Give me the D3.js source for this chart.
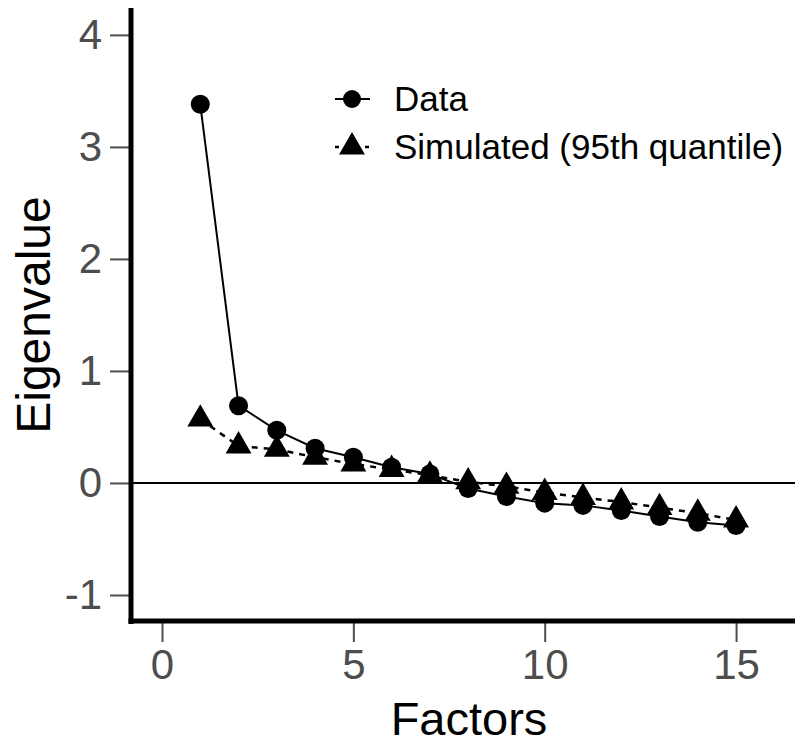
<!DOCTYPE html>
<html>
<head>
<meta charset="utf-8">
<script src="https://cdn.jsdelivr.net/npm/d3@7"></script>
<style>
  body { margin: 0; background: #fff; }
  text { font-family: "Liberation Sans", Arial, sans-serif; }
  .tick text { font-family: "Liberation Sans Narrow", "Arial Narrow", sans-serif; }
</style>
</head>
<body>
<svg id="graph"></svg>
<script>
// data
const factors = [1, 2, 3, 4, 5, 6, 7, 8, 9, 10, 11, 12, 13, 14, 15];
const dataValues = [3.38, 0.69, 0.47, 0.31, 0.23, 0.14, 0.08, -0.05, -0.12, -0.18, -0.20, -0.245, -0.30, -0.35, -0.38];
const simValues = [0.57, 0.33, 0.30, 0.23, 0.17, 0.12, 0.07, 0.01, -0.03, -0.085, -0.13, -0.17, -0.22, -0.27, -0.33];
const xTicks = [0, 5, 10, 15];
const yTicks = [-1, 0, 1, 2, 3, 4];
const legendLabels = ['Data', 'Simulated (95th quantile)'];

const width = 795;
const height = 747;

const graph = d3.select('#graph')
  .attr('width', width)
  .attr('height', height);

// panel edges: left 131, right 795, top 8, bottom 623
const x_scale = d3.scaleLinear().domain([-0.81, 16.54]).range([131, 795]);
const y_scale = d3.scaleLinear().domain([-1.25, 4.24]).range([623, 8]);

const tickColor = '#4d4d4d';

// y axis
const y_axis = d3.axisLeft(y_scale).tickValues(yTicks).tickSize(19).tickSizeOuter(0).tickPadding(8);
const gy = graph.append('g')
  .attr('transform', 'translate(129,0)')
  .call(y_axis);
gy.select('.domain').remove();
gy.selectAll('.tick line').attr('stroke', tickColor).attr('stroke-width', 2);
gy.selectAll('.tick text')
  .attr('fill', tickColor)
  .style('font-size', '42px')
  .text(d => d);

// x axis
const x_axis = d3.axisBottom(x_scale).tickValues(xTicks).tickSize(19).tickSizeOuter(0).tickPadding(7);
const gx = graph.append('g')
  .attr('transform', 'translate(0,623)')
  .call(x_axis);
gx.select('.domain').remove();
gx.selectAll('.tick line').attr('stroke', tickColor).attr('stroke-width', 2);
gx.selectAll('.tick text')
  .attr('fill', tickColor)
  .style('font-size', '42px');

// thick L-shaped axis lines
graph.append('line')
  .attr('x1', 131).attr('x2', 131)
  .attr('y1', y_scale.range()[1]).attr('y2', 624)
  .attr('stroke', '#000').attr('stroke-width', 5);
graph.append('line')
  .attr('x1', 128.5).attr('x2', x_scale.range()[1])
  .attr('y1', 621).attr('y2', 621)
  .attr('stroke', '#000').attr('stroke-width', 5);

// zero reference line
graph.append('line')
  .attr('x1', 131).attr('x2', x_scale.range()[1])
  .attr('y1', y_scale(0)).attr('y2', y_scale(0))
  .attr('stroke', '#000').attr('stroke-width', 2);

// axis titles
graph.append('text')
  .attr('x', 469).attr('y', 735)
  .attr('text-anchor', 'middle')
  .style('font-size', '47px')
  .text('Factors');
graph.append('text')
  .attr('transform', 'translate(50,315) rotate(-90)')
  .attr('text-anchor', 'middle')
  .style('font-size', '48px')
  .text('Eigenvalue');

const dataPts = factors.map((f, i) => ({x: f, y: dataValues[i]}));
const simPts = factors.map((f, i) => ({x: f, y: simValues[i]}));

const line = d3.line().x(d => x_scale(d.x)).y(d => y_scale(d.y));

const triangle = d3.symbol().type(d3.symbolTriangle).size(290);

// simulated series (dashed, triangles)
graph.append('path')
  .attr('d', line(simPts))
  .attr('fill', 'none')
  .attr('stroke', '#000')
  .attr('stroke-width', 2.5)
  .attr('stroke-dasharray', '6,6');

// data series (solid, circles)
graph.append('path')
  .attr('d', line(dataPts))
  .attr('fill', 'none')
  .attr('stroke', '#000')
  .attr('stroke-width', 2);

graph.selectAll('circle.data')
  .data(dataPts)
  .enter()
  .append('circle')
  .attr('class', 'data')
  .attr('cx', d => x_scale(d.x))
  .attr('cy', d => y_scale(d.y))
  .attr('r', 9.5)
  .attr('fill', '#000');

graph.selectAll('path.sim')
  .data(simPts)
  .enter()
  .append('path')
  .attr('class', 'sim')
  .attr('d', triangle)
  .attr('transform', d => `translate(${x_scale(d.x)},${y_scale(d.y)})`)
  .attr('fill', '#000');

// legend
const legend = graph.append('g');
const rows = [99, 147];
legend.append('line')
  .attr('x1', 335).attr('x2', 370).attr('y1', rows[0]).attr('y2', rows[0])
  .attr('stroke', '#000').attr('stroke-width', 2);
legend.append('circle')
  .attr('cx', 352).attr('cy', rows[0]).attr('r', 9)
  .attr('fill', '#000');
legend.append('line')
  .attr('x1', 335).attr('x2', 370).attr('y1', rows[1]).attr('y2', rows[1])
  .attr('stroke', '#000').attr('stroke-width', 2.5)
  .attr('stroke-dasharray', '4,6');
legend.append('path')
  .attr('d', triangle())
  .attr('transform', `translate(352,${rows[1]})`)
  .attr('fill', '#000');
legend.selectAll('text')
  .data(legendLabels)
  .enter()
  .append('text')
  .attr('x', 394)
  .attr('y', (d, i) => rows[i])
  .attr('dy', '0.35em')
  .style('font-size', '35px')
  .text(d => d);
</script>
</body>
</html>
